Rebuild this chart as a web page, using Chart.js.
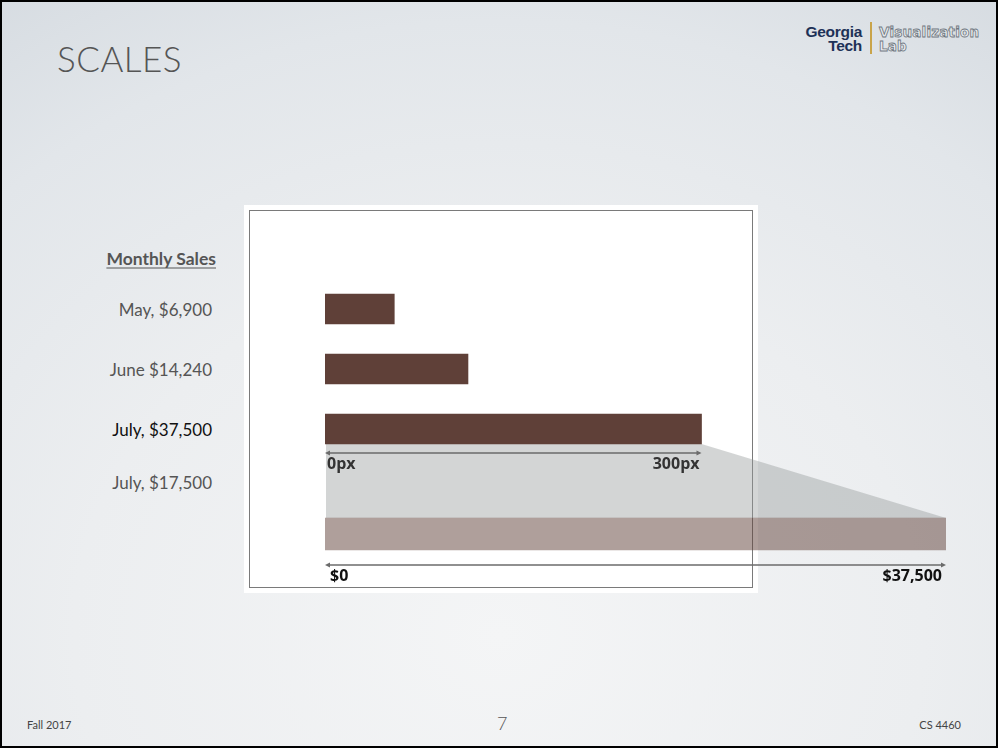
<!DOCTYPE html>
<html>
<head>
<meta charset="utf-8">
<script src="https://cdn.jsdelivr.net/npm/chart.js@4"></script>
<style>
  html, body { margin: 0; padding: 0; }
  body { width: 998px; height: 748px; overflow: hidden; font-family: Lato, "Open Sans", sans-serif; }
  #slide {
    position: relative; width: 994px; height: 744px; border: 2px solid #000;
    background: radial-gradient(ellipse 95% 110% at 50% 85%, #f4f5f6 0%, #eceef0 45%, #e2e6ea 75%, #d3d9df 100%);
  }
  .abs { position: absolute; white-space: nowrap; }
  #title { left: 55px; top: 35px; font-size: 35px; font-weight: 300; color: #555; letter-spacing: 0.5px; }
  #box { left: 247px; top: 208px; width: 502px; height: 376px; background: #fff; border: 1px solid #7a7a7a;
         box-shadow: 0 0 0 5px #fff; }
  .lbl { right: 784px; font-size: 17px; color: #555; transform: translateY(-50%); }
  #head { font-weight: 700; font-size: 17.5px; right: 780px; text-decoration: underline; text-underline-offset: 3px; }
  #chart { position: absolute; left: -2px; top: -2px; }
  .foot { top: 716px; font-size: 11px; color: #444; }
  #gt1, #gt2 { font-family: "Liberation Sans", Arial, sans-serif; font-weight: 700; font-size: 15.5px; color: #1d3157;
               right: 134px; line-height: 14px; letter-spacing: -0.3px; }
  #vl1, #vl2 { font-family: "DejaVu Sans", sans-serif; font-weight: 700; font-size: 13.5px; line-height: 14px;
               color: #e9ecef; -webkit-text-stroke: 0.8px #6f7780; left: 877px; letter-spacing: 0.2px; }
  #gold { left: 868px; top: 20px; width: 2px; height: 32px; background: #c9a44a; }
</style>
</head>
<body>
<div id="slide">
  <div id="title" class="abs">SCALES</div>
  <div id="gt1" class="abs" style="top:23px">Georgia</div>
  <div id="gt2" class="abs" style="top:37px">Tech</div>
  <div id="gold" class="abs"></div>
  <div id="vl1" class="abs" style="top:23px">Visualization</div>
  <div id="vl2" class="abs" style="top:37px">Lab</div>
  <div id="box" class="abs"></div>
  <div id="labels"></div>
  <div class="abs foot" style="left:25px">Fall 2017</div>
  <div class="abs" style="left:495px; top:710px; font-size:18px; font-weight:300; color:#555">7</div>
  <div class="abs foot" style="right:35px">CS 4460</div>
  <canvas id="chart" width="998" height="748"></canvas>
</div>
<script>
// ── data ──────────────────────────────────────────
const months       = ['May', 'June', 'July'];
const sales        = [6900, 14240, 37500];
const listHeader   = 'Monthly Sales';
const listLabels   = ['May, $6,900', 'June $14,240', 'July, $37,500', 'July, $17,500'];
const scaledValue  = 37500;
const dollarDomain = [0, 37500];   // input of the scale
const pixelRange   = [0, 300];     // output of the scale (px)

// ── layout (not data) ─────────────────────────────
const listY      = [258, 309, 369, 429, 482];
const lowerRow   = 3.75;           // y slot of the scaled bar
const pxAxisMax  = 61850;          // $37,500 reaches the "300px" tick
const brown      = '#5f4038';

// left text column
const holder = document.getElementById('labels');
[listHeader].concat(listLabels).forEach((t, i) => {
  const d = document.createElement('div');
  d.className = 'abs lbl';
  if (i === 0) d.id = 'head';
  d.style.top = (listY[i] - 2) + 'px';
  if (i === 3) d.style.color = '#111';
  d.textContent = t;
  holder.appendChild(d);
});

function arrow(ctx, x0, x1, y) {
  ctx.save();
  ctx.strokeStyle = '#6b6b6b';
  ctx.fillStyle = '#6b6b6b';
  ctx.lineWidth = 1.6;
  ctx.beginPath(); ctx.moveTo(x0 + 2, y); ctx.lineTo(x1 - 2, y); ctx.stroke();
  [[x0, 1], [x1, -1]].forEach(([x, d]) => {
    ctx.beginPath();
    ctx.moveTo(x, y);
    ctx.lineTo(x + 5 * d, y - 2.5);
    ctx.lineTo(x + 5 * d, y + 2.5);
    ctx.closePath(); ctx.fill();
  });
  ctx.restore();
}

const scalePlugin = {
  id: 'scaleLinks',
  beforeDatasetsDraw(chart) {
    const ctx = chart.ctx;
    const top = chart.getDatasetMeta(0).data[2];
    const low = chart.getDatasetMeta(1).data[0];
    const tb = top.y + top.height / 2;
    const lt = low.y - low.height / 2;
    ctx.save();
    ctx.fillStyle = 'rgba(150,154,156,0.42)';
    ctx.beginPath();
    ctx.moveTo(top.base + 1, tb);
    ctx.lineTo(top.x, tb);
    ctx.lineTo(low.x, lt);
    ctx.lineTo(top.base + 1, lt);
    ctx.closePath();
    ctx.fill();
    ctx.restore();
  },
  afterDatasetsDraw(chart) {
    const ctx = chart.ctx;
    const sx = chart.scales.x, sx2 = chart.scales.x2;
    const top = chart.getDatasetMeta(0).data[2];
    const low = chart.getDatasetMeta(1).data[0];
    const y1 = top.y + top.height / 2 + 9;
    const y2 = low.y + low.height / 2 + 15;
    const a0 = sx.getPixelForValue(dollarDomain[0]), a1 = sx.getPixelForValue(dollarDomain[1]);
    const b0 = sx2.getPixelForValue(dollarDomain[0]), b1 = sx2.getPixelForValue(dollarDomain[1]);
    arrow(ctx, a0, a1, y1);
    arrow(ctx, b0, b1, y2);
    ctx.save();
    ctx.font = '700 16px "Open Sans", sans-serif';
    ctx.textBaseline = 'alphabetic';
    ctx.fillStyle = '#333';
    ctx.textAlign = 'left';  ctx.fillText(pixelRange[0] + 'px', a0 + 2, y1 + 16);
    ctx.textAlign = 'right'; ctx.fillText(pixelRange[1] + 'px', a1 - 2, y1 + 16);
    ctx.fillStyle = '#111';
    ctx.textAlign = 'left';  ctx.fillText('$' + dollarDomain[0].toLocaleString('en-US'), b0 + 5, y2 + 16);
    ctx.textAlign = 'right'; ctx.fillText('$' + dollarDomain[1].toLocaleString('en-US'), b1 - 4, y2 + 16);
    ctx.restore();
  }
};

new Chart(document.getElementById('chart'), {
  type: 'bar',
  data: {
    datasets: [
      {
        label: 'pixels',
        data: sales.map((v, i) => ({ x: v, y: i })),
        xAxisID: 'x',
        backgroundColor: brown,
        barThickness: 30,
        grouped: false
      },
      {
        label: 'dollars',
        data: [{ x: scaledValue, y: lowerRow }],
        xAxisID: 'x2',
        backgroundColor: 'rgba(95,64,56,0.5)',
        barThickness: 32,
        grouped: false
      }
    ]
  },
  options: {
    indexAxis: 'y',
    responsive: false,
    animation: false,
    events: [],
    layout: { padding: { left: 325, right: 52, top: 279, bottom: 184 } },
    plugins: { legend: { display: false }, tooltip: { enabled: false } },
    scales: {
      y:  { type: 'linear', reverse: true, min: -0.5, max: 4.25, offset: false, display: false },
      x:  { type: 'linear', min: 0, max: pxAxisMax, display: false },
      x2: { type: 'linear', min: 0, max: dollarDomain[1], display: false }
    }
  },
  plugins: [scalePlugin]
});
</script>
</body>
</html>
